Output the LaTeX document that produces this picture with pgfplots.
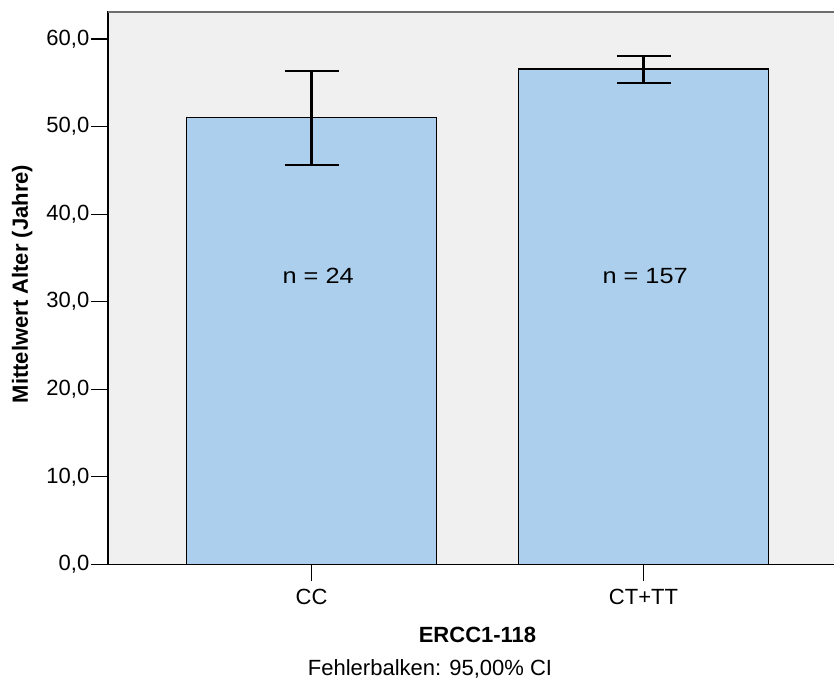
\documentclass[border=0pt]{standalone}
\usepackage{fontspec}
\setmainfont{Liberation Sans}
\newfontfamily\nfont[FakeStretch=1.15]{Liberation Sans}
\usepackage{pgfplots}
\usepackage{pgfplotstable}
\pgfplotsset{compat=1.18}
\definecolor{bgc}{RGB}{240,240,240}
\definecolor{barc}{RGB}{173,207,238}
\definecolor{topc}{RGB}{110,110,110}
\pgfplotstableread{
x y ep em
0 51.04 5.30 5.41
1 56.57 1.52 1.57
}\datatab
\begin{document}
\fontsize{22}{26}\selectfont
\begin{tikzpicture}
\begin{axis}[
  at={(0,0)}, anchor=south west,
  scale only axis,
  width=739pt, height=552.3pt,
  xmin=-0.613, xmax=1.613,
  ymin=0, ymax=63.1,
  axis background/.style={fill=bgc},
  axis line style={black, line width=1.3pt},
  tick pos=left,
  tick align=outside,
  major tick length=17pt,
  tick style={black, line width=1.3pt},
  xtick={0,1},
  xticklabels={CC, CT+TT},
  ytick={0,10,20,30,40,50,60},
  /pgf/number format/assume math mode=true,
  yticklabel={\pgfmathprintnumber[fixed, fixed zerofill, precision=1, use comma]{\tick}},
  tick label style={font=\fontsize{22}{26}\selectfont},
  yticklabel style={inner sep=1.5pt},
  xlabel={ERCC1-118},
  ylabel={Mittelwert Alter (Jahre)},
  label style={font=\fontsize{22}{26}\selectfont\bfseries},
  xlabel style={at={(axis description cs:0.5,0)}, anchor=base, yshift=-77.7pt},
  ylabel style={at={(axis description cs:0,0.5075)}, anchor=base, yshift=80pt},
  clip=false,
]
\addplot[ybar, bar width=249.5pt, bar shift=0pt, fill=barc, draw=black, line width=1.3pt,
  error bars/.cd, y dir=both, y explicit,
  error mark=|,
  error bar style={line width=2.2pt, black},
  error mark options={line width=2.2pt, black, mark size=27pt}]
  table[x=x, y=y, y error plus=ep, y error minus=em] {\datatab};
\draw[topc, line width=1.3pt] (rel axis cs:0,1) -- (rel axis cs:1,1);
\node[anchor=base, font=\nfont\fontsize{22}{26}\selectfont] at (axis cs:0.02,32.1) {n = 24};
\node[anchor=base, font=\nfont\fontsize{22}{26}\selectfont] at (axis cs:1.005,32.1) {n = 157};
\node[anchor=base, font=\fontsize{22}{26}\selectfont] at (axis cs:0.357,0) [yshift=-110.7pt] {Fehlerbalken: 95,00\% CI};
\end{axis}
\pgfresetboundingbox
\useasboundingbox (-108pt,-114.7pt) rectangle (726pt,564.3pt);
\end{tikzpicture}
\end{document}
